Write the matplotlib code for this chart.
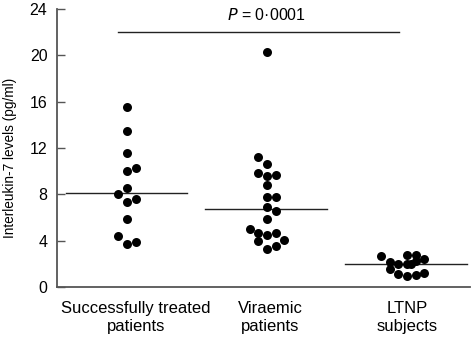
import matplotlib.pyplot as plt
import matplotlib.transforms as mtransforms
import numpy as np

plt.rcParams['font.family'] = ['Liberation Sans', 'DejaVu Sans']

groups = ['Successfully treated\npatients', 'Viraemic\npatients', 'LTNP\nsubjects']

treated = [15.57, 13.44, 11.55, 10.05, 10.3, 8.52, 8.06, 7.37, 7.63, 5.85, 4.40, 3.71, 3.89]
viraemic = [20.29, 11.25, 10.62, 9.82, 9.59, 9.67, 8.84, 7.80, 7.80, 6.93, 6.59, 5.85,
            4.98, 4.69, 4.52, 4.69, 3.95, 4.06, 3.54, 3.31]
ltnp = [2.68, 2.76, 2.76, 2.19, 1.99, 1.99, 2.27, 2.39, 1.53, 1.10, 0.95, 1.04, 1.23, 2.02]

medians = [8.1, 6.75, 2.0]
p_text = '0·0001'

# horizontal slot of each dot (beeswarm layout)
treated_slot = [0, 0, 0, 0, 1, 0, -1, 0, 1, 0, -1, 0, 1]
viraemic_slot = [0, -1, 0, -1, 0, 1, 0, 0, 1, 0, 1, 0, -2, -1, 0, 1, -1, 2, 1, 0]
ltnp_slot = [-3, 0, 1, -2, -1, 0, 1, 2, -2, -1, 0, 1, 2, 0.5]

fig = plt.figure(figsize=(4.76, 3.39), dpi=100)
ax = fig.add_axes([0.12, 0.1534, 0.867, 0.8196])

step = 0.062
for i, (vals, slots) in enumerate(zip([treated, viraemic, ltnp],
                                      [treated_slot, viraemic_slot, ltnp_slot])):
    xs = i + 1 + np.array(slots) * step
    ax.scatter(xs, vals, s=42, color='black', zorder=3, linewidths=0)
    ax.plot([i + 1 - 0.44, i + 1 + 0.43], [medians[i]] * 2, color='#222222', lw=1.0, zorder=2)

ax.plot([0.936, 2.943], [22, 22], color='#222222', lw=1.0)
ax.text(2.0, 23.5, r'$\it{P}$ = ' + p_text, ha='center', va='center', fontsize=11.5)

ax.set_xlim(0.5, 3.45)
ax.set_ylim(0, 24)
ax.set_yticks(range(0, 25, 4))
ax.set_xticks([1, 2, 3])
ax.set_xticklabels(groups, fontsize=12, linespacing=1.3)
ax.tick_params(axis='x', length=0, pad=10)
ax.tick_params(axis='y', direction='in', length=6, width=1, labelsize=11.5, pad=7, color='#555555')
ax.set_ylabel('Interleukin-7 levels (pg/ml)', fontsize=9.8)
ax.yaxis.set_label_coords(-0.097, 0.464)

# labels in the original sit slightly right of the dot columns
for lab, dx in zip(ax.get_xticklabels(), [9, 3, 0]):
    lab.set_transform(lab.get_transform() + mtransforms.ScaledTranslation(dx / 100, 0, fig.dpi_scale_trans))

for s in ['top', 'right']:
    ax.spines[s].set_visible(False)
for s in ['left', 'bottom']:
    ax.spines[s].set_color('#555555')
    ax.spines[s].set_linewidth(1.3)

fig.savefig('out.png', dpi=100)
